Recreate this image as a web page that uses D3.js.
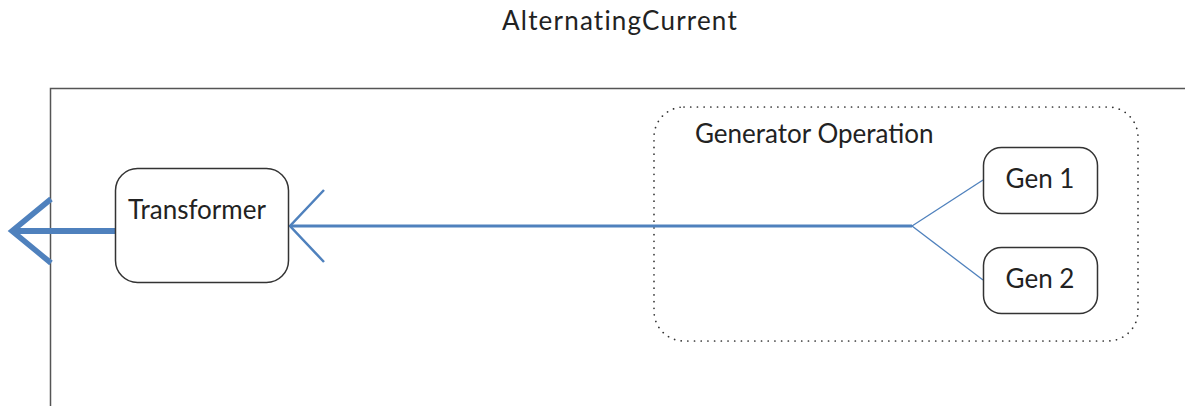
<!DOCTYPE html>
<html><head><meta charset="utf-8">
<script src="https://cdn.jsdelivr.net/npm/d3@7/dist/d3.min.js"></script>
<style>body{margin:0;background:#fff}svg{display:block}text{font-family:Lato,"Open Sans",sans-serif;fill:#222}</style>
</head><body>
<script>
const title = ["AlternatingCurrent"];
const groupLabels = ["Generator Operation"];
const sinkNodes = ["Transformer"];
const sourceNodes = ["Gen 1", "Gen 2"];

const W = 1185, H = 406;
const svg = d3.select("body").append("svg").attr("width", W).attr("height", H);

const genY = d3.scaleBand().domain(sourceNodes).range([147, 313]).paddingInner(0.34);
const blue = "#4f81bd";

svg.append("text").attr("x", 620).attr("y", 30).attr("text-anchor", "middle")
  .attr("font-size", 26).attr("letter-spacing", 1.2).text(title[0]);

// frame
svg.append("path").attr("d", `M${W+2},88.5 H50.5 V${H+2}`).attr("fill", "none")
  .attr("stroke", "#555").attr("stroke-width", 1.5);

// group box
svg.append("rect").attr("x", 654).attr("y", 107).attr("width", 484).attr("height", 234)
  .attr("rx", 30).attr("fill", "none").attr("stroke", "#333").attr("stroke-width", 1.7)
  .attr("stroke-dasharray", "0.1 6.6").attr("stroke-linecap", "round");
svg.append("text").attr("x", 695).attr("y", 143).attr("font-size", 26).text(groupLabels[0]);

const hubX = 912, hubY = 226;
sourceNodes.forEach(n => {
  svg.append("line").attr("x1", hubX).attr("y1", hubY).attr("x2", 983)
    .attr("y2", genY(n) + genY.bandwidth() / 2).attr("stroke", blue).attr("stroke-width", 1.3);
});
svg.append("line").attr("x1", 290).attr("y1", hubY).attr("x2", hubX).attr("y2", hubY)
  .attr("stroke", blue).attr("stroke-width", 3);
svg.append("path").attr("d", "M324,190 L290,226 L324,262").attr("fill", "none")
  .attr("stroke", blue).attr("stroke-width", 2.5);

svg.append("line").attr("x1", 115).attr("y1", 231).attr("x2", 12).attr("y2", 231)
  .attr("stroke", blue).attr("stroke-width", 6);
svg.append("path").attr("d", "M51,199 L12,231 L51,263").attr("fill", "none")
  .attr("stroke", blue).attr("stroke-width", 5.5);

svg.append("rect").attr("x", 115.5).attr("y", 168.5).attr("width", 173).attr("height", 114)
  .attr("rx", 22).attr("fill", "#fff").attr("stroke", "#333").attr("stroke-width", 1.5);
svg.append("text").attr("x", 128).attr("y", 219).attr("font-size", 26).text(sinkNodes[0]);

const g = svg.selectAll("g.gen").data(sourceNodes).join("g").attr("class", "gen");
g.append("rect").attr("x", 983.5).attr("y", d => genY(d) + 0.5).attr("width", 114)
  .attr("height", genY.bandwidth()).attr("rx", 18).attr("fill", "#fff")
  .attr("stroke", "#333").attr("stroke-width", 1.5);
g.append("text").attr("x", 1040).attr("y", d => genY(d) + genY.bandwidth() / 2 + 8)
  .attr("text-anchor", "middle").attr("font-size", 26).text(d => d);
</script>
</body></html>
